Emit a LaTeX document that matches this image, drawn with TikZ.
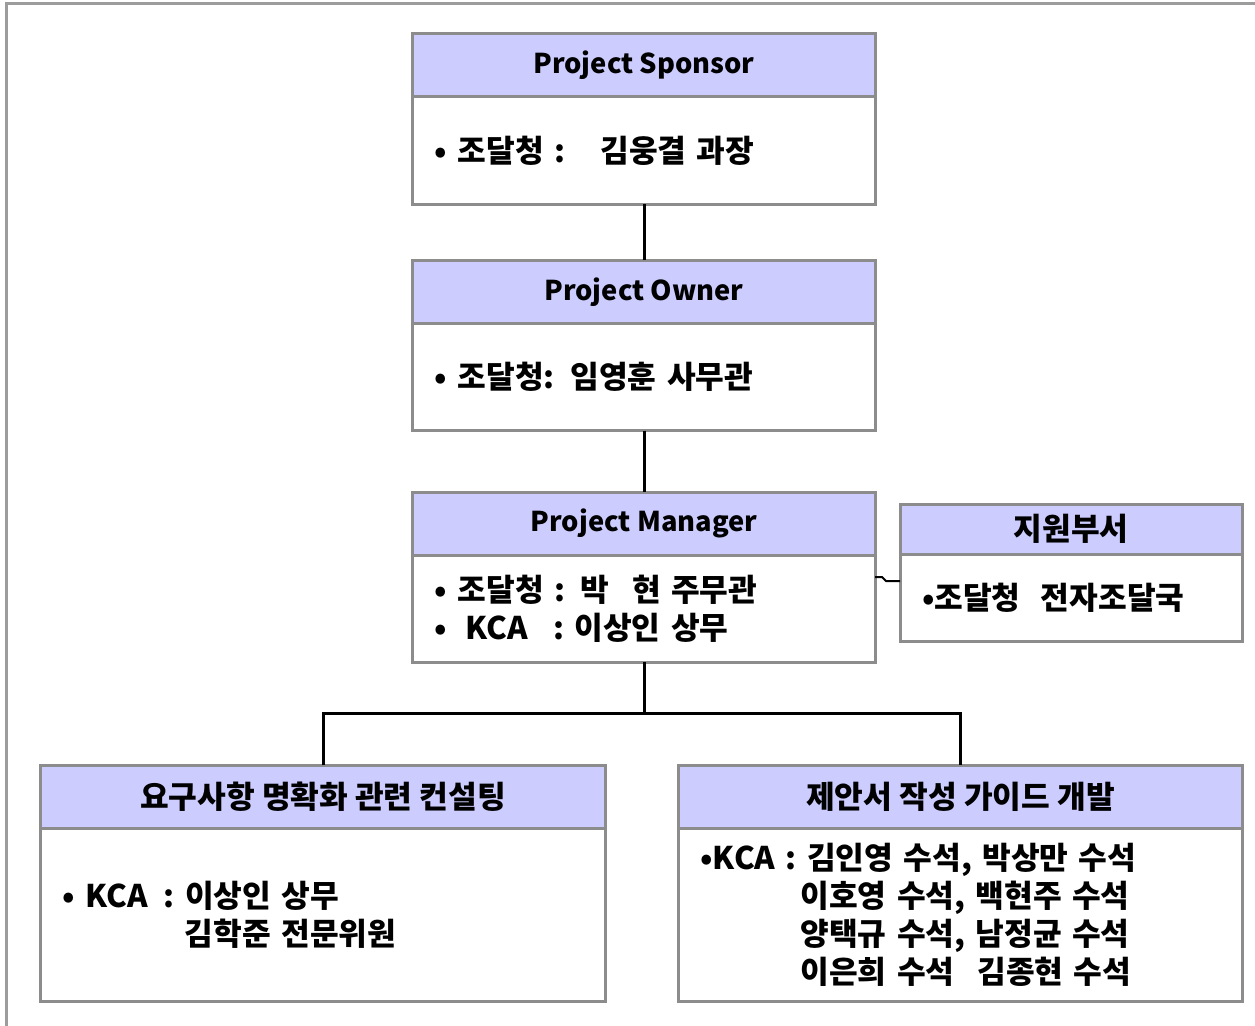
\documentclass[tikz,border=0pt]{standalone}
\usepackage{fontspec}
\setmainfont{Noto Sans CJK KR}[Scale=1.2]
\newfontfamily\latinfont{Noto Sans CJK KR}[Scale=1.05]
\usetikzlibrary{positioning}
\definecolor{headfill}{HTML}{CCCCFF}
\definecolor{boxgray}{HTML}{8C8C8C}
\definecolor{framegray}{HTML}{9C9C9C}

\begin{document}
\begin{tikzpicture}[x=0.4pt, y=-0.4pt,
    headbox/.style={draw=boxgray, fill=headfill, line width=1.2pt, outer sep=0pt, inner sep=0pt,
      minimum height=25.2pt, font=\fontsize{10.4}{15.2}\selectfont\bfseries},
    bodybox/.style={draw=boxgray, fill=white, line width=1.2pt, outer sep=0pt, inner xsep=8.8pt, inner ysep=0pt,
      align=left, text width=#1, font=\fontsize{10.4}{15.2}\selectfont\bfseries},
    link/.style={line width=1.2pt, black}
    ]
    \useasboundingbox (0,0) rectangle (1255,1026);
    \clip (0,0) rectangle (1255,1026);
    \draw[framegray, line width=1.2pt] (6.5,3.5) rectangle (1300,1100);

    % top chain
    \node[headbox, minimum width=184.8pt] (sponsorhead) at (644,65.5) {\latinfont Project Sponsor};
    \node[bodybox=167.2pt, minimum height=42.8pt, below=0pt of sponsorhead] (sponsorbody)
      {• 조달청 :\hspace{14pt}김웅결 과장};

    \node[headbox, minimum width=184.8pt] (ownerhead) at (644,292) {\latinfont Project Owner};
    \node[bodybox=167.2pt, minimum height=42.8pt, below=0pt of ownerhead] (ownerbody)
      {• 조달청: 임영훈 사무관};

    \node[headbox, minimum width=184.8pt] (managerhead) at (644,523.5) {\latinfont Project Manager};
    \node[bodybox=167.2pt, minimum height=42.8pt, below=0pt of managerhead] (managerbody)
      {• 조달청 : 박\hspace{9pt}현 주무관\\
       •\hspace{3pt} KCA\hspace{6pt} : 이상인 상무};

    % support department
    \node[headbox, minimum width=136.8pt, minimum height=20pt] (supporthead) at (1071,529) {지원부서};
    \node[bodybox=119.2pt, minimum height=34.8pt, below=0pt of supporthead] (supportbody)
      {•조달청\hspace{4pt} 전자조달국};

    % bottom teams
    \node[headbox, minimum width=225.6pt] (reqhead) at (323,796.5) {요구사항 명확화 관련 컨설팅};
    \node[bodybox=208pt, minimum height=69.2pt, below=0pt of reqhead] (reqbody)
      {• KCA\hspace{2pt} : 이상인 상무\\
       \hspace*{48.8pt}김학준 전문위원};

    \node[headbox, minimum width=225.6pt] (guidehead) at (960.5,796.5) {제안서 작성 가이드 개발};
    \node[bodybox=208pt, minimum height=69.2pt, below=0pt of guidehead] (guidebody)
      {•KCA : 김인영 수석, 박상만 수석\\
       \hspace*{40pt}이호영 수석, 백현주 수석\\
       \hspace*{40pt}양택규 수석, 남정균 수석\\
       \hspace*{40pt}이은희 수석\hspace{5pt} 김종현 수석};

    % connectors
    \draw[link] (sponsorbody) -- (ownerhead);
    \draw[link] (ownerbody) -- (managerhead);
    \draw[link] (managerbody.south) -- ++(0,51) coordinate (split);
    \draw[link] (reqhead.north) |- (split) -| (guidehead.north);
    \draw[line width=0.8pt] ([yshift=12.6pt]managerbody.east) -- ++(7,0) -- ++(4,4)
      -- ([yshift=6.6pt]supportbody.west);
\end{tikzpicture}
\end{document}
